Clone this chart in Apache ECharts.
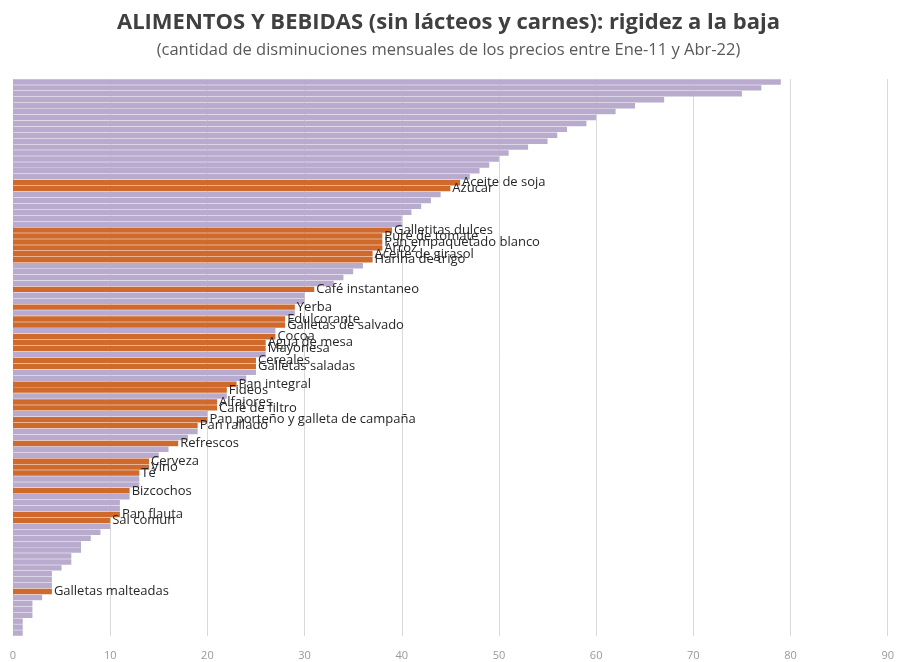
<!DOCTYPE html>
<html>
<head>
<meta charset="utf-8">
<script src="https://cdn.jsdelivr.net/npm/echarts@6/dist/echarts.min.js"></script>
<style>
  html, body { margin: 0; padding: 0; background: #fff; }
  #main { width: 897px; height: 662px; }
</style>
</head>
<body>
<div id="main"></div>
<script>
  // cantidad de disminuciones mensuales por producto (de mayor a menor)
  var valores = [
    79, 77, 75, 67, 64, 62, 60, 59, 57, 56, 55, 53, 51, 50, 49, 48, 47,
    46, 45, 44, 43, 42, 41, 40, 40,
    39, 38, 38, 38, 37, 37, 36, 35, 34, 33,
    31, 30, 30, 29, 29, 28, 28, 27, 27, 26, 26, 26, 25, 25, 25, 24,
    23, 22, 22, 21, 21, 20, 20, 19, 19, 18, 17, 16, 15,
    14, 14, 13, 13, 13, 12, 12, 11, 11, 11, 10, 10, 9, 8, 7, 7, 6, 6, 5,
    4, 4, 4, 4, 3, 2, 2, 2, 1, 1, 1
  ];

  // productos destacados (posicion en la lista -> nombre)
  var destacados = {
    17: 'Aceite de soja',
    18: 'Azucar',
    25: 'Galletitas dulces',
    26: 'Puré de tomate',
    27: 'Pan empaquetado blanco',
    28: 'Arroz',
    29: 'Aceite de girasol',
    30: 'Harina de trigo',
    35: 'Café instantaneo',
    38: 'Yerba',
    40: 'Edulcorante',
    41: 'Galletas de salvado',
    43: 'Cocoa',
    44: 'Agua de mesa',
    45: 'Mayonesa',
    47: 'Cereales',
    48: 'Galletas saladas',
    51: 'Pan integral',
    52: 'Fideos',
    54: 'Alfajores',
    55: 'Café de filtro',
    57: 'Pan porteño y galleta de campaña',
    58: 'Pan rallado',
    61: 'Refrescos',
    64: 'Cerveza',
    65: 'Vino',
    66: 'Té',
    69: 'Bizcochos',
    73: 'Pan flauta',
    74: 'Sal comun',
    86: 'Galletas malteadas'
  };

  var ticks = [0, 10, 20, 30, 40, 50, 60, 70, 80, 90];

  var categorias = valores.map(function (v, i) { return destacados[i] || ('p' + i); });

  var datos = valores.map(function (v, i) {
    var nombre = destacados[i];
    if (!nombre) {
      return { value: v, itemStyle: { color: '#b8abcd' } };
    }
    return {
      value: v,
      itemStyle: { color: '#cf6a2c' },
      label: { show: true, formatter: nombre }
    };
  });

  var myChart = echarts.init(document.getElementById('main'));
  myChart.setOption({
    animation: false,
    title: {
      text: 'ALIMENTOS Y BEBIDAS (sin lácteos y carnes): rigidez a la baja',
      subtext: '(cantidad de disminuciones mensuales de los precios entre Ene-11 y Abr-22)',
      left: 'center',
      top: 7,
      itemGap: 8,
      textStyle: { fontFamily: 'Open Sans', fontSize: 22, fontWeight: 'bold', color: '#404040' },
      subtextStyle: { fontFamily: 'Open Sans', fontSize: 16.5, color: '#595959' }
    },
    grid: { left: 13, right: 9, top: 79, bottom: 26 },
    xAxis: {
      type: 'value',
      min: 0,
      max: 90,
      interval: 10,
      axisLine: { show: false },
      axisTick: { show: false },
      splitLine: { lineStyle: { color: '#d9d9d9' } },
      axisLabel: {
        color: '#999999',
        fontFamily: 'Open Sans',
        fontSize: 11,
        margin: 14,
        formatter: function (v) { return ticks.indexOf(v) >= 0 ? String(v) : ''; }
      }
    },
    yAxis: {
      type: 'category',
      inverse: true,
      data: categorias,
      show: false
    },
    series: [{
      type: 'bar',
      data: datos,
      barCategoryGap: '8%',
      label: {
        show: false,
        position: 'right',
        distance: 2,
        color: '#262626',
        fontFamily: 'Open Sans',
        fontSize: 13
      }
    }]
  });
</script>
</body>
</html>
